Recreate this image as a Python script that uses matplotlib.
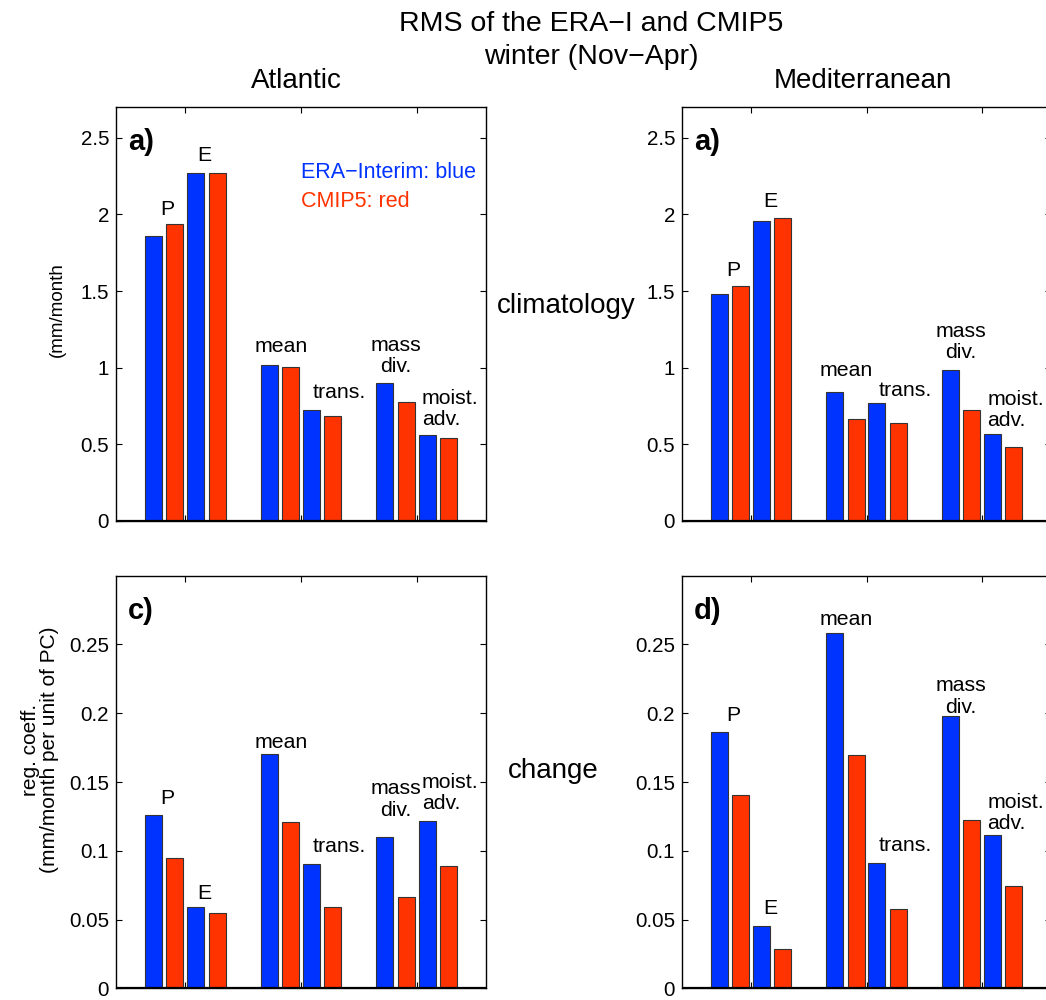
import matplotlib
matplotlib.use("Agg")
import matplotlib.pyplot as plt
from matplotlib.ticker import FormatStrFormatter
import numpy as np

plt.rcParams['font.family'] = ['Liberation Sans', 'DejaVu Sans']

# ---------------- data ----------------
categories = ["P", "E", "mean", "trans.", "mass\ndiv.", "moist.\nadv."]

atl_clim_era = [1.86, 2.27, 1.018, 0.722, 0.898, 0.559]
atl_clim_cmip = [1.935, 2.27, 1.003, 0.683, 0.774, 0.537]
med_clim_era = [1.483, 1.955, 0.838, 0.771, 0.983, 0.566]
med_clim_cmip = [1.53, 1.98, 0.663, 0.638, 0.724, 0.481]

atl_chg_era = [0.126, 0.0594, 0.170, 0.0906, 0.110, 0.1215]
atl_chg_cmip = [0.0947, 0.0551, 0.121, 0.0591, 0.0667, 0.0891]
med_chg_era = [0.186, 0.0451, 0.2587, 0.0913, 0.1978, 0.1118]
med_chg_cmip = [0.1406, 0.0283, 0.1693, 0.058, 0.1225, 0.0743]

clim_ticks = [0, 0.5, 1, 1.5, 2, 2.5]
chg_ticks = [0, 0.05, 0.1, 0.15, 0.2, 0.25]

# ---------------- layout / style ----------------
W, H = 1046, 1000
BLUE = "#0033FF"
RED = "#FF3300"
EDGE = "#333333"

pair_off = [-0.182, 0.182]
half_sep = 0.092
bar_w = 0.147

# label baselines (data units, last line) per panel
lab_y = {
    "a": [1.996, 2.348, 1.100, 0.804, 0.970, 0.622],
    "b": [1.598, 2.048, 0.946, 0.815, 1.063, 0.620],
    "c": [0.1343, 0.0647, 0.1746, 0.099, 0.1256, 0.1304],
    "d": [0.1944, 0.0543, 0.2645, 0.0995, 0.2004, 0.1159],
}
# label x shift relative to pair centre and alignment
lab_dx = [0.03, -0.015, 0.01, -0.08, 0.0, -0.135]
lab_ha = ["center", "center", "center", "left", "center", "left"]


def px_axes(x0, y0, x1, y1):
    return [x0 / W, 1 - y1 / H, (x1 - x0) / W, (y1 - y0) / H]


fig = plt.figure(figsize=(W / 100, H / 100), dpi=100)

panels = [
    ("a", "a)", px_axes(116, 107.3, 486, 520.7), atl_clim_era, atl_clim_cmip, 2.7, clim_ticks),
    ("b", "a)", px_axes(682, 107.3, 1051, 520.7), med_clim_era, med_clim_cmip, 2.7, clim_ticks),
    ("c", "c)", px_axes(116, 575.7, 486, 988.3), atl_chg_era, atl_chg_cmip, 0.3, chg_ticks),
    ("d", "d)", px_axes(682, 575.7, 1051, 988.3), med_chg_era, med_chg_cmip, 0.3, chg_ticks),
]

for key, letter, rect, era, cmip, ytop, yt in panels:
    ax = fig.add_axes(rect)
    n = len(categories)
    groups = np.array([k // 2 + 1 for k in range(n)], dtype=float)
    centers = groups + np.array([pair_off[k % 2] for k in range(n)])
    ax.bar(centers - half_sep, era, width=bar_w, color=BLUE, edgecolor=EDGE, linewidth=0.8, zorder=2)
    ax.bar(centers + half_sep, cmip, width=bar_w, color=RED, edgecolor=EDGE, linewidth=0.8, zorder=2)
    ax.axhline(0, color="black", lw=1.6, zorder=3)
    ax.set_xlim(0.4, 3.6)
    ax.set_ylim(0, ytop)
    ax.set_xticks([1, 2, 3])
    ax.set_xticklabels([])
    ax.set_yticks(yt)
    ax.yaxis.set_major_formatter(FormatStrFormatter('%g'))
    ax.tick_params(direction="in", length=4, width=0.8, top=True, right=True,
                   labelsize=14.8, pad=5)
    for s in ax.spines.values():
        s.set_linewidth(1.0)
    for k, cat in enumerate(categories):
        ax.text(centers[k] + lab_dx[k], lab_y[key][k], cat, ha=lab_ha[k],
                va="baseline", multialignment=lab_ha[k], fontsize=15.3, linespacing=1.15)
    ax.text(0.032, 0.896, letter, transform=ax.transAxes, fontsize=21,
            fontweight="bold", va="baseline", ha="left")
    if key == "a":
        ax.text(0.501, 0.830, "ERA\u2212Interim: blue", color=BLUE, transform=ax.transAxes,
                fontsize=15.5, va="baseline", ha="left")
        ax.text(0.501, 0.759, "CMIP5: red", color=RED, transform=ax.transAxes,
                fontsize=15.5, va="baseline", ha="left")

# titles and annotations
fig.text(591 / W, 1 - 31 / H, "RMS of the ERA\u2212I and CMIP5", ha="center",
         va="baseline", fontsize=20.5)
fig.text(591 / W, 1 - 64 / H, "winter (Nov\u2212Apr)", ha="center",
         va="baseline", fontsize=20.5)
fig.text(296 / W, 1 - 88 / H, "Atlantic", ha="center", va="baseline", fontsize=20)
fig.text(863 / W, 1 - 88 / H, "Mediterranean", ha="center", va="baseline", fontsize=20)
fig.text(566 / W, 1 - 313 / H, "climatology", ha="center", va="baseline", fontsize=20)
fig.text(553 / W, 1 - 778 / H, "change", ha="center", va="baseline", fontsize=20)

fig.text(57 / W, 1 - 310 / H, "(mm/month", rotation=90, ha="center", va="center",
         fontsize=13.5)
fig.text(40 / W, 1 - 750 / H, "reg. coeff.\n(mm/month per unit of PC)", rotation=90,
         ha="center", va="center", fontsize=15, linespacing=1.0)

fig.savefig("out.png", dpi=100)
